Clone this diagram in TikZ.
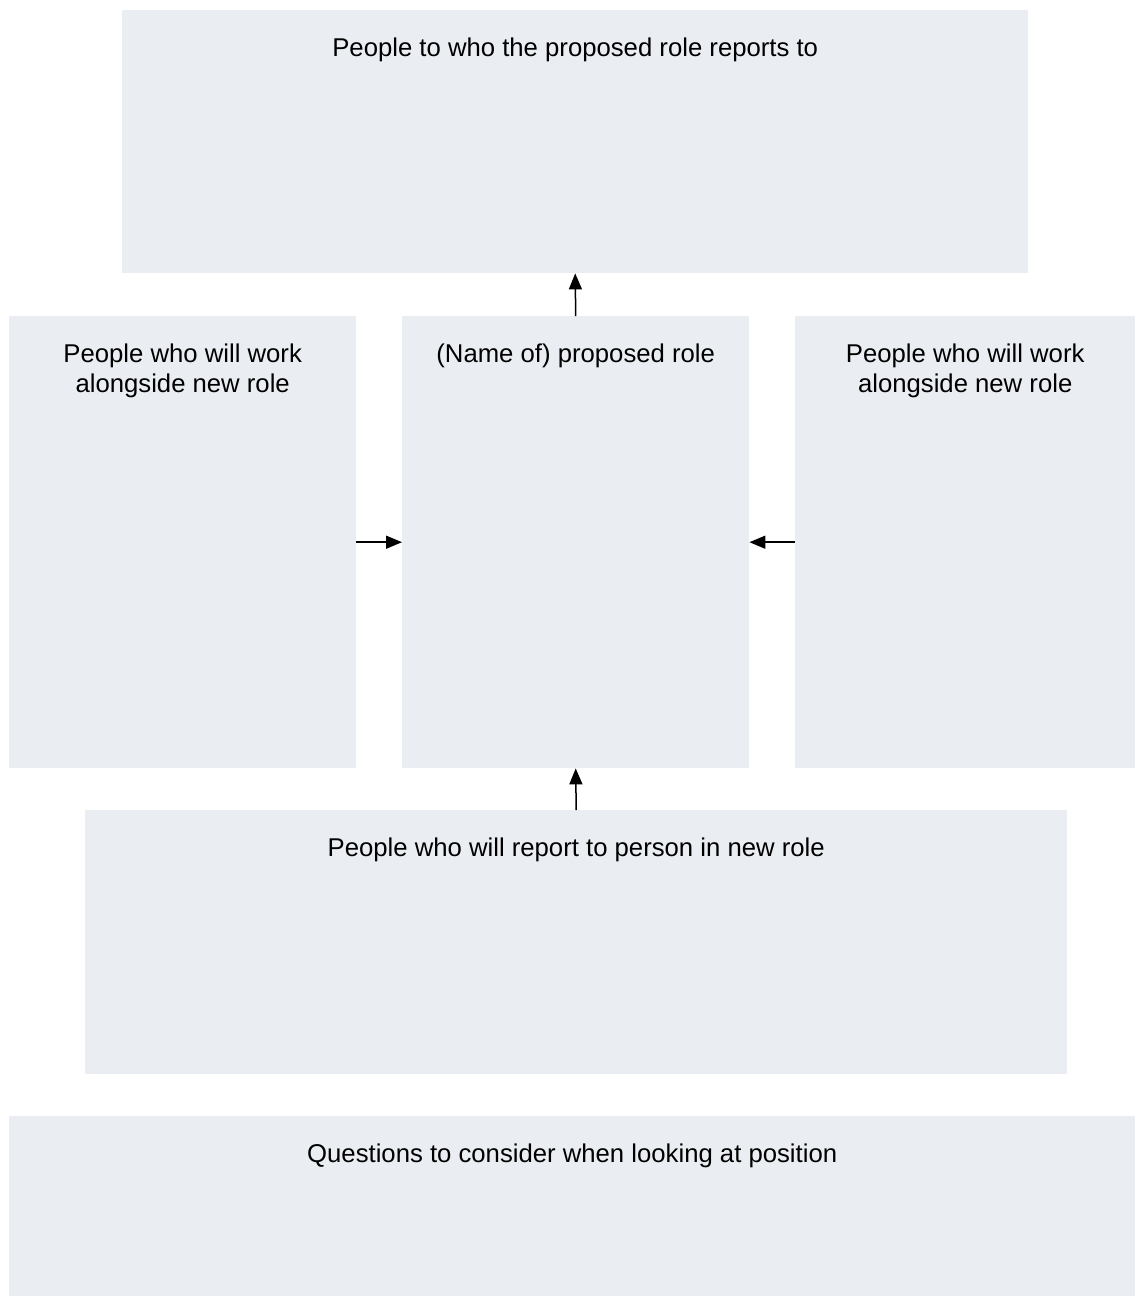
\documentclass[tikz,border=0pt]{standalone}
\usepackage{fontspec}
\setmainfont{Liberation Sans}
\usetikzlibrary{arrows.meta}

\definecolor{boxgray}{HTML}{EAEDF1}

\begin{document}
\begin{tikzpicture}[x=1pt,y=-1pt,
  box/.style={fill=boxgray,draw=none,inner sep=0,anchor=north west},
  lbl/.style={anchor=north,inner sep=0,align=center,font=\fontsize{25.7}{30}\selectfont},
  link/.style={line width=1.5pt,-{Triangle[length=16pt,width=13pt]}}]
\useasboundingbox (0,0) rectangle (1135,1296);
\node[box,minimum width=906pt,minimum height=263pt] (boss) at (122,10) {};
\node[box,minimum width=347pt,minimum height=452pt] (left) at (9,316) {};
\node[box,minimum width=347pt,minimum height=452pt] (role) at (402,316) {};
\node[box,minimum width=340pt,minimum height=452pt] (right) at (795,316) {};
\node[box,minimum width=982pt,minimum height=264pt] (staff) at (85,810) {};
\node[box,minimum width=1126pt,minimum height=180pt] (quest) at (9,1116) {};
\node[lbl] (tboss) at ([yshift=-28pt]boss.north) {People to who the proposed role reports to};
\node[lbl] (tleft) at ([yshift=-28pt]left.north) {People who will work\\alongside new role};
\node[lbl] (trole) at ([yshift=-28pt]role.north) {(Name of) proposed role};
\node[lbl] (tright) at ([yshift=-28pt]right.north) {People who will work\\alongside new role};
\node[lbl] (tstaff) at ([yshift=-28pt]staff.north) {People who will report to person in new role};
\node[lbl] (tquest) at ([yshift=-28pt]quest.north) {Questions to consider when looking at position};
\foreach \from/\to in {role.north/boss.south,left.east/role.west,right.west/role.east,staff.north/role.south}
\draw[link] (\from) -- (\to);
\end{tikzpicture}
\end{document}
